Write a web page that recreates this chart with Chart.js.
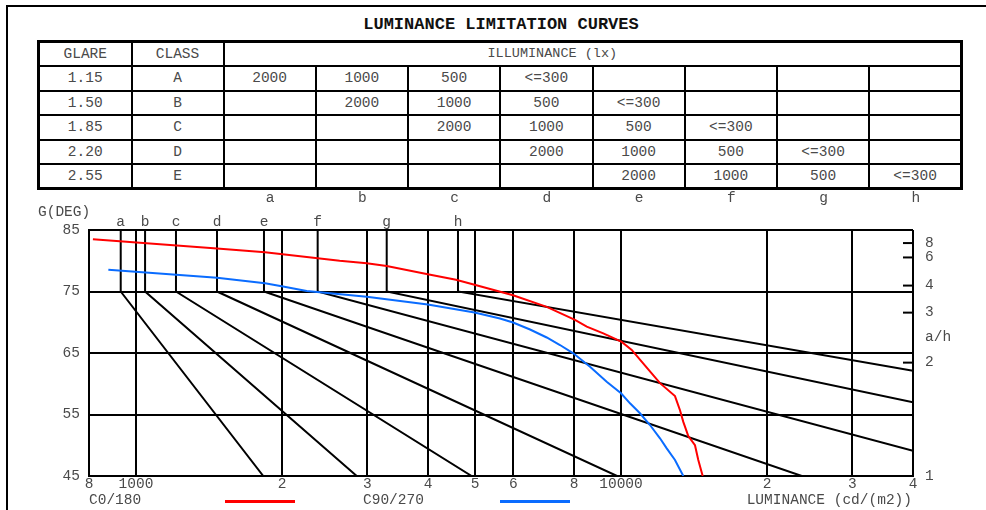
<!DOCTYPE html>
<html>
<head>
<meta charset="utf-8">
<script src="https://cdn.jsdelivr.net/npm/chart.js@4.4.1/dist/chart.umd.min.js"></script>
<style>
  body { margin:0; width:986px; height:510px; background:#fff; overflow:hidden; position:relative;
         font-family:"Liberation Mono", monospace; color:#4a4a4a; }
  #frame { position:absolute; left:6px; top:5px; width:1100px; height:600px;
           border-left:2px solid #000; border-top:2px solid #000; }
  #title { position:absolute; left:0; width:1002px; top:15px; text-align:center;
           font-weight:bold; font-size:17px; line-height:20px; color:#111; }
  #tbl { position:absolute; left:37px; top:40px; width:923px; border-collapse:collapse;
         table-layout:fixed; border:3px solid #000; }
  #tbl td { border:2px solid #000; padding:0; text-align:center; font-size:14.5px;
            line-height:16px; color:#4a4a4a; white-space:pre; }
  #tbl tr { height:24.5px; }
  #tbl td.head { font-size:13.5px; text-align:left; padding-left:263px; }
  .lbl { position:absolute; font-size:14.5px; line-height:16px; color:#4a4a4a; white-space:pre; }
  .letter { transform:translateX(-50%); }
  #plot { position:absolute; left:0; top:200px; width:986px; height:310px; }
  .key { position:absolute; height:3px; top:500px; width:70px; }
</style>
</head>
<body>
<div id="frame"></div>
<div id="title">LUMINANCE LIMITATION CURVES</div>
<table id="tbl"></table>
<div id="plot"><canvas id="chart" width="986" height="310"></canvas></div>
<div class="lbl" style="left:38px; top:204px;">G(DEG)</div>
<div class="lbl" style="left:925px; top:329px;">a/h</div>
<div class="lbl" style="left:89px; top:492px;">C0/180</div>
<div class="key" style="left:225px; background:#ff0000;"></div>
<div class="lbl" style="left:363px; top:492px;">C90/270</div>
<div class="key" style="left:500px; background:#0a6cff;"></div>
<div class="lbl" style="right:74px; top:492px;">LUMINANCE (cd/(m2))</div>
<script>
// table
const glareValues = ['1.15', '1.50', '1.85', '2.20', '2.55'];
const classNames = ['A', 'B', 'C', 'D', 'E'];
const illuminanceRows = [
  ['2000', '1000', '500', '<=300', '', '', '', ''],
  ['', '2000', '1000', '500', '<=300', '', '', ''],
  ['', '', '2000', '1000', '500', '<=300', '', ''],
  ['', '', '', '2000', '1000', '500', '<=300', ''],
  ['', '', '', '', '2000', '1000', '500', '<=300']
];

// curve letters and limit lines
const letters = ['a', 'b', 'c', 'd', 'e', 'f', 'g', 'h'];
const letterLum = [930, 1044, 1209, 1469, 1836, 2369, 3288, 4612];
const lineEndLum = [1830, 2852, 4921, 9812, 23590, 40000, 40000, 40000];
const lineEndDeg = [45, 45, 45, 45, 45, 49.1, 57.0, 62.1];

// luminance curves
const c0Lum = [815, 1469, 1845, 2630, 2990, 3288, 3996, 4569, 4989, 5990, 7028, 8037, 8500, 9194,
  10034, 10522, 11031, 11475, 12034, 12921, 13232, 13442, 13764, 14208, 14433, 14738];
const c0Deg = [83.5, 82.0, 81.4, 80.0, 79.6, 79.15, 77.8, 76.9, 76.1, 74.4, 72.5, 70.4, 69.3, 68.2,
  66.8, 65.5, 63.6, 62.0, 60.1, 58.0, 55.7, 53.8, 51.5, 50.0, 47.6, 45.0];
const c90Lum = [877, 1469, 1845, 2010, 2249, 2990, 3996, 4989, 5629, 5990, 6493, 7028, 7485,
  7973, 8632, 9343, 10000, 10437, 10942, 11475, 12034, 12424, 12921, 13442];
const c90Deg = [78.55, 77.24, 76.33, 75.81, 75.08, 74.15, 72.89, 71.59, 70.61, 69.96, 68.82, 67.52, 66.3,
  64.95, 62.77, 60.33, 58.45, 56.82, 55.2, 53.29, 51.13, 49.5, 47.6, 45.0];

// axes
const xTickValues = [800, 1000, 2000, 3000, 4000, 5000, 6000, 8000, 10000, 20000, 30000, 40000];
const xTickLabels = ['8', '1000', '2', '3', '4', '5', '6', '8', '10000', '2', '3', '4'];
const yTickValues = [45, 55, 65, 75, 85];
const ratioValues = [1, 2, 3, 4, 6, 8];
const ratioLabels = ['1', '2', '3', '4', '6', '8'];

function buildTable() {
  const tbl = document.getElementById('tbl');
  const cg = document.createElement('colgroup');
  [93, 92].concat(Array(8).fill(92.25)).forEach(w => {
    const c = document.createElement('col');
    c.style.width = w + 'px';
    cg.appendChild(c);
  });
  tbl.appendChild(cg);

  let tr = tbl.insertRow();
  ['GLARE', 'CLASS'].forEach(t => { tr.insertCell().textContent = t; });
  const h = tr.insertCell();
  h.colSpan = 8;
  h.className = 'head';
  h.textContent = 'ILLUMINANCE (lx)';

  illuminanceRows.forEach((row, i) => {
    tr = tbl.insertRow();
    tr.insertCell().textContent = glareValues[i];
    tr.insertCell().textContent = classNames[i];
    row.forEach(v => { tr.insertCell().textContent = v; });
  });

  letters.forEach((l, i) => {
    const d = document.createElement('div');
    d.className = 'lbl letter';
    d.style.left = (224 + 92.25 * (i + 0.5)) + 'px';
    d.style.top = '190px';
    d.textContent = l;
    document.body.appendChild(d);
  });
}

buildTable();

const tickFont = { family: 'Liberation Mono', size: 14.5, lineHeight: 1 };
const gray = '#4a4a4a';

const insideTicks = {
  id: 'insideTicks',
  afterDatasetsDraw(chart) {
    const s = chart.scales.yRight;
    const ctx = chart.ctx;
    const right = chart.chartArea.right;
    ctx.save();
    ctx.strokeStyle = '#000';
    ctx.lineWidth = 2;
    s.ticks.forEach((t, i) => {
      if (i === 0) return;
      const y = s.getPixelForValue(t.value);
      ctx.beginPath();
      ctx.moveTo(right - 10, y);
      ctx.lineTo(right, y);
      ctx.stroke();
    });
    ctx.restore();
  }
};

let datasets = [
  {
    label: 'C0/180',
    data: c0Lum.map((v, i) => ({ x: v, y: c0Deg[i] })),
    borderColor: '#ff0000',
    borderWidth: 2,
    order: 0
  },
  {
    label: 'C90/270',
    data: c90Lum.map((v, i) => ({ x: v, y: c90Deg[i] })),
    borderColor: '#0a6cff',
    borderWidth: 2,
    order: 0
  }
];

letters.forEach((l, i) => {
  datasets.push({
    label: l,
    data: [
      { x: letterLum[i], y: 85 },
      { x: letterLum[i], y: 75 },
      { x: lineEndLum[i], y: lineEndDeg[i] }
    ],
    borderColor: '#000',
    borderWidth: 2,
    order: 1
  });
});

new Chart(document.getElementById('chart'), {
  type: 'scatter',
  data: { datasets: datasets },
  options: {
    responsive: false,
    animation: false,
    showLine: true,
    elements: { point: { radius: 0 }, line: { tension: 0 } },
    plugins: { legend: { display: false }, tooltip: { enabled: false } },
    layout: { padding: 0 },
    scales: {
      x: {
        type: 'logarithmic',
        position: 'bottom',
        min: 800,
        max: 40000,
        afterBuildTicks: s => { s.ticks = xTickValues.map(v => ({ value: v })); },
        afterFit: s => { s.height = 34; },
        ticks: { autoSkip: false, maxRotation: 0, padding: 1, color: gray, font: tickFont,
                 callback: (v, i) => xTickLabels[i] },
        grid: { color: '#000', lineWidth: 2, drawTicks: false },
        border: { color: '#000', width: 2 }
      },
      xTop: {
        type: 'logarithmic',
        position: 'top',
        min: 800,
        max: 40000,
        afterBuildTicks: s => { s.ticks = letterLum.map(v => ({ value: v })); },
        afterFit: s => { s.height = 30; },
        ticks: { autoSkip: false, maxRotation: 0, padding: 1, color: gray, font: tickFont,
                 callback: (v, i) => letters[i] },
        grid: { display: false, drawTicks: false },
        border: { display: false }
      },
      y: {
        type: 'linear',
        position: 'left',
        min: 45,
        max: 85,
        afterBuildTicks: s => { s.ticks = yTickValues.map(v => ({ value: v })); },
        afterFit: s => { s.width = 89; },
        ticks: { padding: 9, color: gray, font: tickFont },
        grid: { color: '#000', lineWidth: 2, drawTicks: false },
        border: { color: '#000', width: 2 }
      },
      yRight: {
        type: 'linear',
        position: 'right',
        min: 45,
        max: 85,
        afterBuildTicks: s => {
          s.ticks = ratioValues.map(r => ({ value: Math.atan(r) * 180 / Math.PI }));
        },
        afterFit: s => { s.width = 73; },
        ticks: { padding: 12, color: gray, font: tickFont, callback: (v, i) => ratioLabels[i] },
        grid: { display: false, drawTicks: false },
        border: { display: false }
      }
    }
  },
  plugins: [insideTicks]
});
</script>
</body>
</html>
